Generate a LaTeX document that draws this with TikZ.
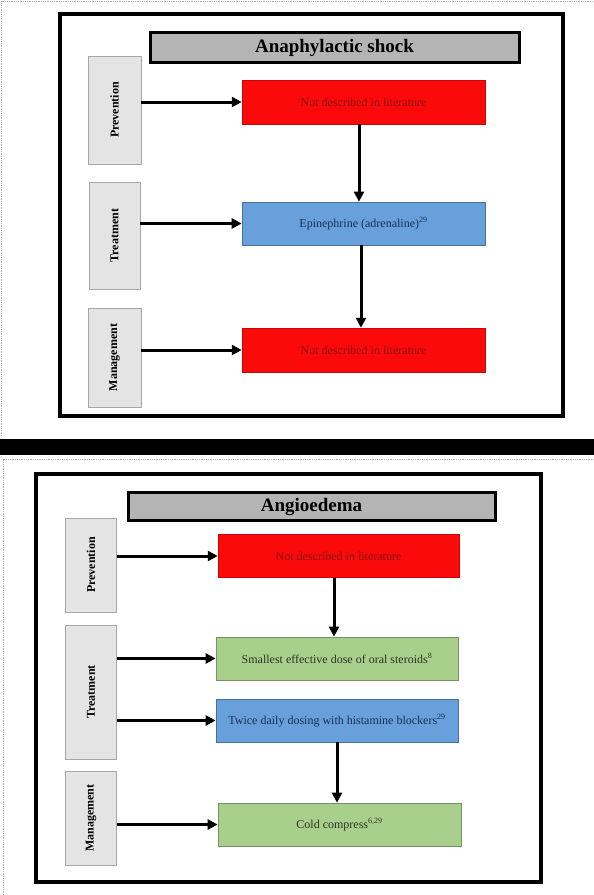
\documentclass[tikz,border=0pt]{standalone}
\usepackage{fontspec}
\setmainfont{Liberation Serif}
\usetikzlibrary{arrows.meta,patterns}
\definecolor{boxred}{HTML}{FA0A0A}
\definecolor{txtred}{HTML}{8A1010}
\definecolor{boxblue}{HTML}{67A0DA}
\definecolor{txtblue}{HTML}{1C2E55}
\definecolor{boxgreen}{HTML}{A8D08C}
\definecolor{txtgreen}{HTML}{2E3322}
\definecolor{titlegray}{HTML}{B4B4B4}
\definecolor{labelgray}{HTML}{E4E4E4}
\begin{document}
\begin{tikzpicture}[x=1pt,y=-1pt,
  outerbox/.style={draw=black,line width=4.5pt,fill=white},
  titlebox/.style={draw=black,line width=3pt,fill=titlegray,font=\fontsize{19}{21}\selectfont\bfseries,inner sep=0pt},
  labelbox/.style={draw=gray!70,line width=0.6pt,fill=labelgray,rotate=90,font=\fontsize{12}{14}\selectfont\bfseries,inner sep=0pt},
  redbox/.style={fill=boxred,draw=boxred!80!black,line width=0.5pt,text=txtred,font=\fontsize{12}{14}\selectfont,inner sep=0pt,minimum width=243pt},
  bluebox/.style={fill=boxblue,draw=boxblue!70!black,line width=0.7pt,text=txtblue,font=\fontsize{12}{14}\selectfont,inner sep=0pt,minimum width=243pt},
  greenbox/.style={fill=boxgreen,draw=boxgreen!70!black,line width=0.7pt,text=txtgreen,font=\fontsize{12}{14}\selectfont,inner sep=0pt,minimum width=243pt},
  arr/.style={line width=3pt,-{Triangle[length=10pt,width=10pt]}},
  dotline/.style={draw=gray!60,densely dotted,line width=0.8pt}
]
\useasboundingbox (0,0) rectangle (594,895);
% section frames
\draw[dotline] (1,436) -- (1,1) -- (594,1);
\draw[dotline] (3,895) -- (3,459) -- (594,459);
\fill[black] (0,439) rectangle (594,455);

% ---------- Top: Anaphylactic shock ----------
\draw[outerbox] (60,14) rectangle (563,416);
\node[titlebox,minimum width=369pt,minimum height=30pt] (t1) at (334.5,47.5) {Anaphylactic shock};
\node[labelbox,minimum width=108pt,minimum height=53pt] (p1) at (114.5,110) {Prevention};
\node[labelbox,minimum width=107pt,minimum height=51pt] (tr1) at (114.5,235.5) {Treatment};
\node[labelbox,minimum width=99pt,minimum height=53pt] (m1) at (114.5,357.5) {Management};
\node[redbox,minimum height=44pt] (a1) at (363.5,102) {Not described in literature};
\node[bluebox,minimum height=43pt] (a2) at (363.5,223.5) {Epinephrine (adrenaline)\textsuperscript{29}};
\node[redbox,minimum height=44pt] (a3) at (363.5,350) {Not described in literature};
\draw[arr] (p1.south |- a1.west) -- (a1.west);
\draw[arr] (tr1.south |- a2.west) -- (a2.west);
\draw[arr] (m1.south |- a3.west) -- (a3.west);
\draw[arr] (a1.south -| 359,0) -- (a2.north -| 359,0);
\draw[arr] (a2.south -| 361,0) -- (a3.north -| 361,0);

% ---------- Bottom: Angioedema ----------
\draw[outerbox] (36,474) rectangle (541,882);
\node[titlebox,minimum width=367pt,minimum height=28pt] (t2) at (311.5,506.5) {Angioedema};
\node[labelbox,minimum width=94pt,minimum height=51pt] (p2) at (91,565) {Prevention};
\node[labelbox,minimum width=134pt,minimum height=51pt] (tr2) at (91,692) {Treatment};
\node[labelbox,minimum width=94pt,minimum height=51pt] (m2) at (91,818) {Management};
\node[redbox,minimum width=241pt,minimum height=43pt] (b1) at (338.5,556) {Not described in literature};
\node[greenbox,minimum width=242pt,minimum height=43pt] (b2) at (337,658.5) {Smallest effective dose of oral steroids\textsuperscript{8}};
\node[bluebox,minimum width=242pt,minimum height=43pt] (b3) at (337,720.5) {Twice daily dosing  with histamine  blockers\textsuperscript{29}};
\node[greenbox,minimum width=243pt,minimum height=43pt] (b4) at (339.5,824.5) {Cold compress\textsuperscript{6,29}};
\draw[arr] (p2.south |- b1.west) -- (b1.west);
\draw[arr] (tr2.south |- b2.west) -- (b2.west);
\draw[arr] (tr2.south |- b3.west) -- (b3.west);
\draw[arr] (m2.south |- b4.west) -- (b4.west);
\draw[arr] (b1.south -| 334,0) -- (b2.north -| 334,0);
\draw[arr] (b3.south -| 337,0) -- (b4.north -| 337,0);
\end{tikzpicture}
\end{document}
